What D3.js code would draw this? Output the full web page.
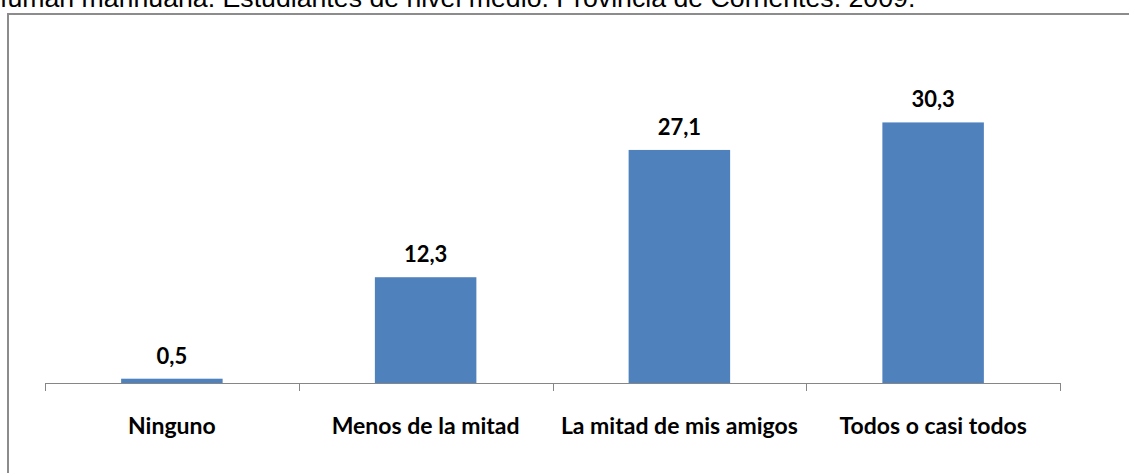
<!DOCTYPE html>
<html><head><meta charset="utf-8">
<script src="https://cdn.jsdelivr.net/npm/d3@7"></script>
<style>body{margin:0;background:#fff;overflow:hidden}svg{display:block}</style>
</head><body>
<svg id="c" width="1129" height="473"></svg>
<script>
const categories = ["Ninguno", "Menos de la mitad", "La mitad de mis amigos", "Todos o casi todos"];
const values = [0.5, 12.3, 27.1, 30.3];
const labels = ["0,5", "12,3", "27,1", "30,3"];
const titleText = "fuman marihuana. Estudiantes de nivel medio. Provincia de Corrientes. 2009.";

const svg = d3.select("#c");
const font = "Lato, 'Open Sans', sans-serif";

// clipped title line at top (cut off in the original as well)
svg.append("text").attr("x", 0).attr("y", 6.5)
  .attr("font-family", "Arial, 'Liberation Sans', sans-serif").attr("font-size", 26.7)
  .attr("fill", "#000").text(titleText);

// chart frame (top and left edges)
svg.append("path").attr("d", "M8,473 V14 H1129")
  .attr("fill", "none").attr("stroke", "#8c8c8c").attr("stroke-width", 2);

const x = d3.scaleBand().domain(categories).range([45, 1060]).paddingInner(0.6).paddingOuter(0.3);
const y = d3.scaleLinear().domain([0, 35]).range([383, 82]);

svg.selectAll("rect.bar").data(values).enter().append("rect")
  .attr("x", (d, i) => x(categories[i]))
  .attr("width", x.bandwidth())
  .attr("y", d => y(d))
  .attr("height", d => y(0) - y(d))
  .attr("fill", "#4F81BD");

// axis
const step = (1060 - 45) / categories.length;
const g = svg.append("g").attr("transform", `translate(0,${y(0)})`);
g.append("line").attr("x1", 45).attr("x2", 1060).attr("y1", 0.5).attr("y2", 0.5)
  .attr("stroke", "#868686");
const tickPos = d3.range(categories.length + 1).map(i => 45 + i * step);
g.selectAll("line.t").data(tickPos).enter().append("line")
  .attr("x1", d => Math.round(d) + 0.5).attr("x2", d => Math.round(d) + 0.5)
  .attr("y1", 0).attr("y2", 8).attr("stroke", "#868686");
g.selectAll("text.cat").data(categories).enter().append("text")
  .attr("x", d => x(d) + x.bandwidth() / 2)
  .attr("y", 51)
  .attr("text-anchor", "middle")
  .attr("font-family", font).attr("font-weight", "bold").attr("font-size", 23)
  .attr("fill", "#000").text(d => d);

svg.selectAll("text.val").data(values).enter().append("text")
  .attr("x", (d, i) => x(categories[i]) + x.bandwidth() / 2)
  .attr("y", d => y(d) - 15)
  .attr("text-anchor", "middle")
  .attr("font-family", font).attr("font-weight", "bold").attr("font-size", 22)
  .attr("fill", "#000").text((d, i) => labels[i]);
</script>
</body></html>
